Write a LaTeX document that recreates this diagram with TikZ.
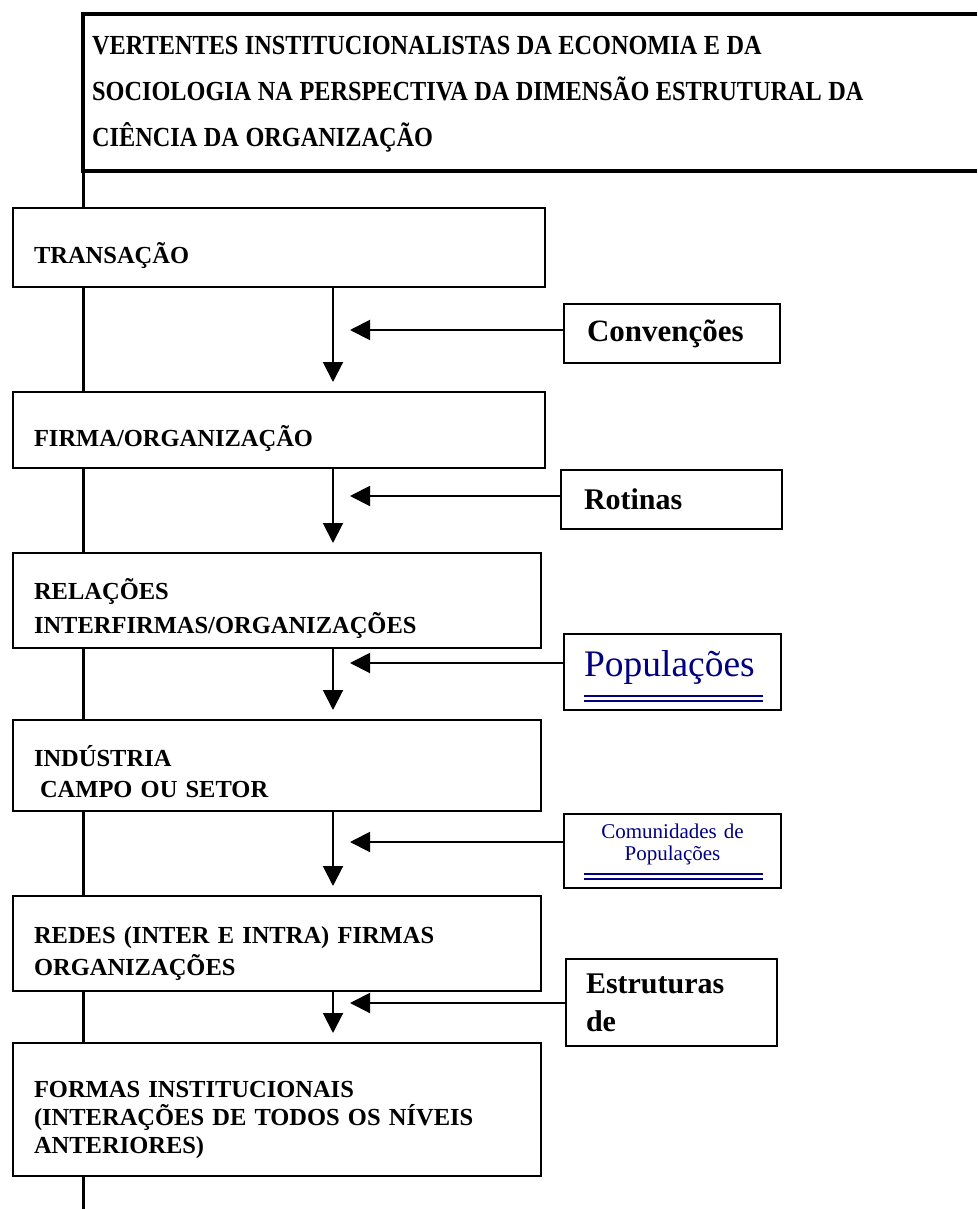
\documentclass[tikz,border=0pt]{standalone}
\usepackage{fontspec}
\setmainfont{Liberation Serif}
\newfontfamily\titlefont[FakeStretch=0.88]{Liberation Serif}
\usetikzlibrary{arrows.meta}
\definecolor{popblue}{RGB}{0,0,128}
\tikzset{
	level/.style={draw, line width=2pt, fill=white, anchor=north west, align=left, inner xsep=21pt, font=\fontsize{24.5}{34}\selectfont\bfseries,
		execute at begin node={\rule{0pt}{38pt}}, execute at end node={\rule[-6pt]{0pt}{6pt}}}, % boxes of the left column
	side/.style={draw, line width=2pt, fill=white, anchor=north west, align=left, inner xsep=23pt, font=\fontsize{30}{38}\selectfont\bfseries}, % boxes on the right
	flow/.style={-{Triangle[length=20pt,width=20pt]}, line width=2pt}, % arrows with big filled heads
	spine/.style={line width=3pt}, % the long vertical line
	frame/.style={line width=3.5pt}, % frame round the title
	dbl/.style={line width=2.2pt, draw=popblue}, % double underline
	title/.style={anchor=north west, inner sep=0pt, align=left, text width=880pt, font=\titlefont\fontsize{27.6}{46}\selectfont\bfseries,
		execute at begin node={\spaceskip=6.5pt plus 1pt\rule{0pt}{30pt}}},
}
\begin{document}
\begin{tikzpicture}[x=1pt, y=-1pt]
	\useasboundingbox (0,0) rectangle (977,1209);
	\coordinate (axis) at (333,0);
	% spine and title frame
	\draw[spine] (83,171) -- (83,1209);
	\draw[frame] (977,14) -- (83,14) -- (83,171) -- (977,171);
	\node[title] (title) at (92,24) {VERTENTES INSTITUCIONALISTAS DA ECONOMIA E DA\\SOCIOLOGIA NA PERSPECTIVA DA DIMENSÃO ESTRUTURAL DA\\CIÊNCIA DA ORGANIZAÇÃO};
	% levels
	\node[level, text width=490pt, minimum height=79pt] (trans) at (12,207) {TRANSAÇÃO};
	\node[level, text width=490pt, minimum height=76pt] (firm) at (12,391) {FIRMA/ORGANIZAÇÃO};
	\node[level, text width=486pt, minimum height=95pt] (rel) at (12,552) {RELAÇÕES\\INTERFIRMAS/ORGANIZAÇÕES};
	\node[level, text width=486pt, minimum height=91pt, font=\fontsize{24.5}{31}\selectfont\bfseries] (ind) at (12,719) {INDÚSTRIA\\\hspace*{6pt}CAMPO OU SETOR};
	\node[level, text width=486pt, minimum height=95pt, font=\fontsize{24.5}{32}\selectfont\bfseries] (net) at (12,895) {REDES (INTER E INTRA) FIRMAS\\ORGANIZAÇÕES};
	\node[level, text width=486pt, minimum height=133pt, font=\fontsize{24.5}{28}\selectfont\bfseries,
		execute at begin node={\rule{0pt}{30pt}}] (inst) at (12,1042) {FORMAS INSTITUCIONAIS\\(INTERAÇÕES DE TODOS OS NÍVEIS\\ANTERIORES)};
	% side boxes
	\node[side, text width=170pt, minimum height=59pt, font=\fontsize{31}{38}\selectfont\bfseries] (conv) at (563,303) {Convenções};
	\node[side, text width=175pt, minimum height=59pt] (rot) at (560,469) {Rotinas};
	\node[side, text width=177pt, minimum height=76pt, inner xsep=20pt, font=\fontsize{37.5}{40}\selectfont, text=popblue] (pop) at (563,633) {Populações\rule[-18pt]{0pt}{18pt}};
	\node[side, text width=177pt, minimum height=74pt, inner xsep=20pt, align=center, font=\fontsize{21}{22}\selectfont, text=popblue] (com) at (563,813) {Comunidades de\\Populações\rule[-17pt]{0pt}{17pt}};
	\node[side, text width=171pt, minimum height=87pt, inner xsep=20pt] (est) at (565,958) {Estruturas\\de};
	% double underlines
	\draw[dbl] ([xshift=21pt,yshift=15pt]pop.south west) -- ([xshift=-19pt,yshift=15pt]pop.south east)
		([xshift=21pt,yshift=10pt]pop.south west) -- ([xshift=-19pt,yshift=10pt]pop.south east);
	\draw[dbl] ([xshift=21pt,yshift=15pt]com.south west) -- ([xshift=-19pt,yshift=15pt]com.south east)
		([xshift=21pt,yshift=10pt]com.south west) -- ([xshift=-19pt,yshift=10pt]com.south east);
	% arrows down the levels
	\path[every edge/.append style={flow, shorten >=9pt}]
		(trans.south -| axis) edge (firm.north -| axis)
		(firm.south -| axis) edge (rel.north -| axis)
		(rel.south -| axis) edge (ind.north -| axis)
		(ind.south -| axis) edge (net.north -| axis)
		(net.south -| axis) edge (inst.north -| axis);
	% arrows from the side boxes
	\coordinate (t1) at (350,330);
	\coordinate (t2) at (350,496);
	\coordinate (t3) at (350,663);
	\coordinate (t4) at (350,842);
	\coordinate (t5) at (350,1003);
	\path[every edge/.append style={flow}]
		(t1 -| conv.west) edge (t1)
		(t2 -| rot.west) edge (t2)
		(t3 -| pop.west) edge (t3)
		(t4 -| com.west) edge (t4)
		(t5 -| est.west) edge (t5);
\end{tikzpicture}
\end{document}
